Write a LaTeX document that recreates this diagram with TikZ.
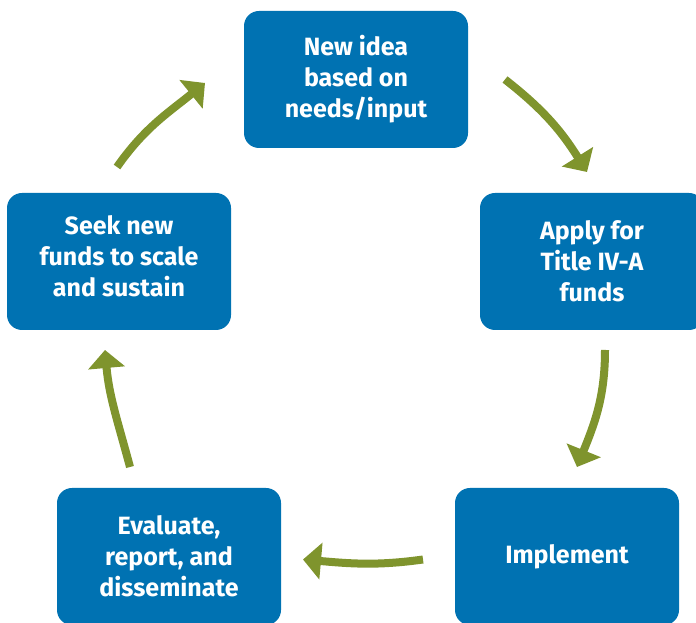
\documentclass[tikz,border=0pt]{standalone}
\usepackage{fontspec}
\setmainfont{Fira Sans}
\usetikzlibrary{positioning, arrows.meta}

\definecolor{stepblue}{RGB}{0,114,178}
\definecolor{arrowgreen}{RGB}{127,148,45}

\begin{document}
\begin{tikzpicture}[x=1pt, y=1pt, >={Triangle[length=18pt, width=36pt]},
    every node/.style={minimum width=224pt, minimum height=137pt, inner sep=0pt, outer sep=0pt, align=center, rounded corners=15pt},
    stage/.style={fill=stepblue, text=white, font=\bfseries\fontsize{25}{31}\selectfont},
    flow/.style={->, draw=arrowgreen, line width=8pt}]

\useasboundingbox (0,0) rectangle (696,623);
\clip (0,0) rectangle (696,623);

% Boxes of the cycle
\node[stage] (idea) at (356,543.5) {New idea\\based on\\needs/input};
\node[stage, below right=45pt and 12pt of idea] (apply) {Apply for\\Title IV-A\\funds};
\node[stage, left=249pt of apply] (seek) {Seek new\\funds to scale\\and sustain\\[-20pt]};
\node[stage, below=158pt of apply, xshift=-25pt] (impl) {Implement};
\node[stage, left=174pt of impl] (eval) {Evaluate,\\report, and\\disseminate};

% Waypoints for the arrows
\node[coordinate, right=37pt of idea.east] (t1) {};
\node[coordinate, above left=21pt and 5pt of apply.north] (h1) {};
\node[coordinate, below right=20pt and 13pt of apply.south] (t2) {};
\node[coordinate, above right=21pt and 10pt of impl.north] (h2) {};
\node[coordinate, below left=3pt and 32pt of impl.west] (t3) {};
\node[coordinate, below right=3pt and 22pt of eval.east] (h3) {};
\node[coordinate, above left=21pt and 39pt of eval.north] (t4) {};
\node[coordinate, below left=20pt and 14pt of seek.south] (h4) {};
\node[coordinate, above left=26pt and 2pt of seek.north] (t5) {};
\node[coordinate, below left=3.5pt and 39pt of idea.west] (h5) {};

% Cycle arrows
\draw[flow] (t1) to[out=-38, in=122] (h1);
\draw[flow] (t2) to[out=-90, in=68] (h2);
\draw[flow] (t3) to[out=188, in=-5] (h3);
\draw[flow] (t4) to[out=105, in=-85] (h4);
\draw[flow] (t5) to[out=55, in=219] (h5);

\end{tikzpicture}
\end{document}
